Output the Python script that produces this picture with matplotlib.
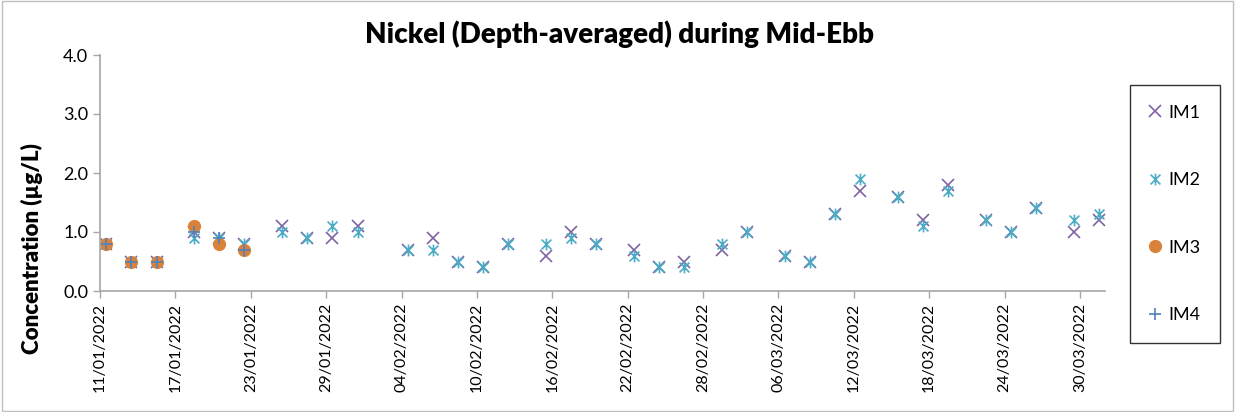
import numpy as np
import matplotlib
matplotlib.use("Agg")
from matplotlib import pyplot as plt
from matplotlib.path import Path
from matplotlib.patches import Rectangle

# sampling days, counted from 11/01/2022
days = [0, 2, 4, 7, 9, 11, 14, 16, 18, 20, 24, 26, 28, 30, 32, 35, 37, 39, 42, 44,
        46, 49, 51, 54, 56, 58, 60, 63, 65, 67, 70, 72, 74, 77, 79]

im1 = [0.8, 0.5, 0.5, 1.0, 0.9, 0.8, 1.1, 0.9, 0.9, 1.1, 0.7, 0.9, 0.5, 0.4, 0.8, 0.6, 1.0, 0.8,
       0.7, 0.4, 0.5, 0.7, 1.0, 0.6, 0.5, 1.3, 1.7, 1.6, 1.2, 1.8, 1.2, 1.0, 1.4, 1.0, 1.2]
im2 = [0.8, 0.5, 0.5, 0.9, 0.9, 0.8, 1.0, 0.9, 1.1, 1.0, 0.7, 0.7, 0.5, 0.4, 0.8, 0.8, 0.9, 0.8,
       0.6, 0.4, 0.4, 0.8, 1.0, 0.6, 0.5, 1.3, 1.9, 1.6, 1.1, 1.7, 1.2, 1.0, 1.4, 1.2, 1.3]
# IM3 / IM4 only sampled on the first six days
days_34 = [0, 2, 4, 7, 9, 11]
im3 = [0.8, 0.5, 0.5, 1.1, 0.8, 0.7]
im4 = [0.8, 0.5, 0.5, 1.0, 0.9, 0.7]

tick_days = list(range(0, 79, 6))
tick_labels = ["11/01/2022", "17/01/2022", "23/01/2022", "29/01/2022", "04/02/2022",
               "10/02/2022", "16/02/2022", "22/02/2022", "28/02/2022", "06/03/2022",
               "12/03/2022", "18/03/2022", "24/03/2022", "30/03/2022"]

plt.rcParams['font.family'] = ['Lato', 'DejaVu Sans']

# excel style "star": an x with a vertical bar
star = Path([(-1, -1), (1, 1), (-1, 1), (1, -1), (0, -1.2), (0, 1.2)],
            [Path.MOVETO, Path.LINETO, Path.MOVETO, Path.LINETO, Path.MOVETO, Path.LINETO])

fig = plt.figure(figsize=(12.35, 4.12), dpi=100)
ax = fig.add_axes([100 / 1235, 1 - 291 / 412, 1005 / 1235, 236 / 412])

x = np.array(days) + 0.5
x34 = np.array(days_34) + 0.5
ax.plot(x, im1, ls='none', marker='x', ms=8, mew=1.2, color='#8064A2', label='IM1')
ax.plot(x, im2, ls='none', marker=star, ms=8.5, mew=1.2, color='#4BACC6', label='IM2')
ax.plot(x34, im3, ls='none', marker='o', ms=8.5, color='#D9823B', label='IM3')
ax.plot(x34, im4, ls='none', marker='+', ms=9, mew=1.2, color='#4F81BD', label='IM4')

ax.set_xlim(0, 80)
ax.set_ylim(0, 4)
ax.set_yticks([0, 1, 2, 3, 4])
ax.set_yticklabels(["0.0", "1.0", "2.0", "3.0", "4.0"], fontsize=13)
ax.set_xticks(tick_days)
ax.set_xticklabels(tick_labels, rotation=90, fontsize=11.5)
ax.tick_params(axis='both', color='#A6A6A6', length=5, width=1)
for s in ['top', 'right']:
    ax.spines[s].set_visible(False)
for s in ['left', 'bottom']:
    ax.spines[s].set_color('#A6A6A6')
    ax.spines[s].set_linewidth(1.2)

# excel centres the axis title over the whole plot area, tick labels included
ax.set_ylabel("Concentration (µg/L)", fontsize=16, fontweight='heavy')
ax.yaxis.set_label_coords(-0.057, 0.178)
fig.text(0.502, 0.918, "Nickel (Depth-averaged) during Mid-Ebb", ha='center', va='center',
         fontsize=20, fontweight='heavy')

leg = fig.legend(loc='center', bbox_to_anchor=(1175 / 1235, 1 - 214 / 412), frameon=True,
                 fancybox=False, edgecolor='black', fontsize=13, handlelength=0.6,
                 handletextpad=0.4, labelspacing=2.85, borderpad=1.1)
leg.get_frame().set_linewidth(1.0)

fig.patches.append(Rectangle((0.002, 0.003), 0.996, 0.994, transform=fig.transFigure,
                             fill=False, edgecolor='#BFBFBF', lw=1))

fig.savefig("out.png", dpi=100)
